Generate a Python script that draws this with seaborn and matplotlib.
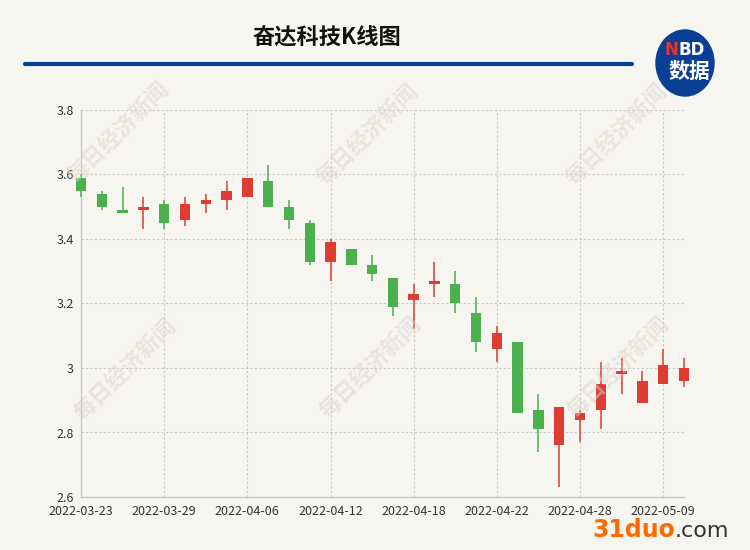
"""奋达科技K线图 - candlestick chart."""
import matplotlib
matplotlib.use("Agg")
import matplotlib.pyplot as plt
import pandas as pd
import seaborn as sns
from matplotlib.lines import Line2D
from matplotlib.patches import Ellipse
from matplotlib.ticker import FuncFormatter

dates = ["2022-03-23", "2022-03-24", "2022-03-25", "2022-03-28", "2022-03-29",
         "2022-03-30", "2022-03-31", "2022-04-01", "2022-04-06", "2022-04-07",
         "2022-04-08", "2022-04-11", "2022-04-12", "2022-04-13", "2022-04-14",
         "2022-04-15", "2022-04-18", "2022-04-19", "2022-04-20", "2022-04-21",
         "2022-04-22", "2022-04-25", "2022-04-26", "2022-04-27", "2022-04-28",
         "2022-04-29", "2022-05-05", "2022-05-06", "2022-05-09", "2022-05-10"]
open_ = [3.59, 3.54, 3.49, 3.49, 3.51, 3.46, 3.51, 3.52, 3.53, 3.58,
         3.50, 3.45, 3.33, 3.37, 3.32, 3.28, 3.21, 3.26, 3.26, 3.17,
         3.06, 3.08, 2.87, 2.76, 2.84, 2.87, 2.98, 2.89, 2.95, 2.96]
close = [3.55, 3.50, 3.48, 3.50, 3.45, 3.51, 3.52, 3.55, 3.59, 3.50,
         3.46, 3.33, 3.39, 3.32, 3.29, 3.19, 3.23, 3.27, 3.20, 3.08,
         3.11, 2.86, 2.81, 2.88, 2.86, 2.95, 2.99, 2.96, 3.01, 3.00]
high = [3.60, 3.55, 3.56, 3.53, 3.52, 3.53, 3.54, 3.58, 3.59, 3.63,
        3.52, 3.46, 3.40, 3.37, 3.35, 3.28, 3.26, 3.33, 3.30, 3.22,
        3.13, 3.08, 2.92, 2.88, 2.87, 3.02, 3.03, 2.99, 3.06, 3.03]
low = [3.53, 3.49, 3.48, 3.43, 3.43, 3.44, 3.48, 3.49, 3.53, 3.50,
       3.43, 3.32, 3.27, 3.32, 3.27, 3.16, 3.12, 3.22, 3.17, 3.05,
       3.02, 2.86, 2.74, 2.63, 2.77, 2.81, 2.92, 2.89, 2.95, 2.94]
y_ticks = [2.6, 2.8, 3.0, 3.2, 3.4, 3.6, 3.8]

BG = "#f7f5f0"
UP = "#de3b33"
DOWN = "#4caf50"

df = pd.DataFrame({"date": dates, "open": open_, "close": close,
                   "high": high, "low": low})
df["idx"] = range(len(df))
df["up"] = df["close"] >= df["open"]
df["bottom"] = df[["open", "close"]].min(axis=1)
df["height"] = (df["close"] - df["open"]).abs().clip(lower=0.004)

sns.set_theme(style="whitegrid", rc={"axes.facecolor": BG, "figure.facecolor": BG})
plt.rcParams["font.family"] = ["Noto Sans CJK SC", "DejaVu Sans"]

fig = plt.figure(figsize=(7.5, 5.5), dpi=100)
ax = fig.add_axes([81 / 750, 1 - 497 / 550, 603 / 750, 387 / 550])

colors = [UP if u else DOWN for u in df["up"]]
ax.vlines(df["idx"], df["low"], df["high"], colors=colors, linewidth=1.1,
          zorder=3, clip_on=False)
ax.bar(df["idx"], df["height"], bottom=df["bottom"], width=0.5, color=colors,
       linewidth=0, zorder=4, clip_on=False)

ax.set_xlim(0, len(df) - 1)
ax.set_ylim(2.6, 3.8)
ax.set_yticks(y_ticks)
ax.yaxis.set_major_formatter(FuncFormatter(lambda v, _: f"{v:g}"))
tick_pos = list(range(0, len(df), 4))
ax.set_xticks(tick_pos)
ax.set_xticklabels([dates[i] for i in tick_pos])
ax.tick_params(axis="both", length=0, labelsize=9, colors="#333333")
ax.tick_params(axis="x", pad=6)
ax.tick_params(axis="y", pad=5)
ax.grid(True, color="#c9c9c9", linestyle=(0, (2, 2)), linewidth=0.8)
for side in ["top", "right"]:
    ax.spines[side].set_visible(False)
for side in ["left", "bottom"]:
    ax.spines[side].set_color("#c8c8c8")
    ax.spines[side].set_linewidth(1)
ax.set_xlabel("")
ax.set_ylabel("")

# watermark
for px, py in [(118, 133), (125, 370), (367, 135), (370, 368), (616, 135), (618, 368)]:
    fig.text(px / 750, 1 - py / 550, "每日经济新闻", rotation=45, fontsize=16,
             color="#d9d5ce", alpha=0.5, ha="center", va="center",
             fontweight="bold", zorder=0)

# title and rule
fig.text(327 / 750, 1 - 38 / 550, "奋达科技K线图", fontsize=16, fontweight="bold",
         ha="center", va="center", color="#111111")
fig.add_artist(Line2D([25 / 750, 632 / 750], [1 - 64 / 550, 1 - 64 / 550],
                      color="#00439b", linewidth=3, transform=fig.transFigure))

# logo
fig.add_artist(Ellipse((685 / 750, 1 - 63 / 550), 58 / 750, 66 / 550,
                       transform=fig.transFigure, color="#0a3f93", zorder=5))
fig.text(678 / 750, 1 - 50 / 550, "N", color="#e8342c", fontsize=12,
         fontweight="bold", ha="right", va="center", zorder=6, family="DejaVu Sans")
fig.text(678 / 750, 1 - 50 / 550, "BD", color="white", fontsize=12,
         fontweight="bold", ha="left", va="center", zorder=6, family="DejaVu Sans")
fig.text(689 / 750, 1 - 71 / 550, "数据", color="white", fontsize=15,
         fontweight="bold", ha="center", va="center", zorder=6)

# footer
fig.text(675 / 750, 1 - 530 / 550, "31duo", color="#ff6a00", fontsize=17,
         fontweight="bold", ha="right", va="center", family="DejaVu Sans")
fig.text(675 / 750, 1 - 531 / 550, ".com", color="#333333", fontsize=16,
         ha="left", va="center", family="DejaVu Sans")

fig.savefig("out.png", dpi=100, facecolor=BG)
plt.close(fig)
